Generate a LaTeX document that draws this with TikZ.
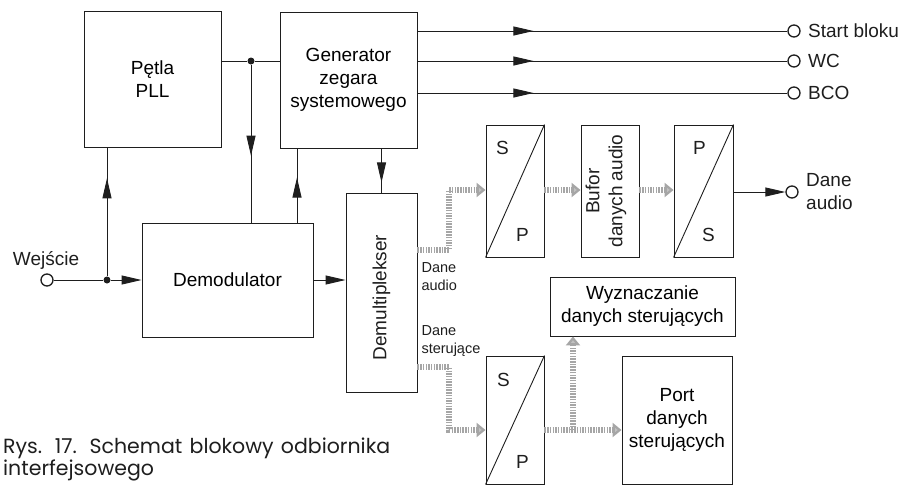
\documentclass[tikz,border=0pt]{standalone}
\usepackage{fontspec}
\setmainfont{Liberation Sans}
\newfontfamily\capfont{Poppins}
\usetikzlibrary{arrows.meta, positioning, decorations.markings}
\definecolor{InkBlack}{HTML}{1E1E1E}
\definecolor{StippleGray}{HTML}{A6A6A6}

\begin{document}
\begin{tikzpicture}[x=1pt, y=-1pt,
    block/.style={draw=InkBlack, line width=0.9pt, inner sep=0pt, align=center, font=\fontsize{19}{23}\selectfont},
    wire/.style={draw=InkBlack, line width=0.9pt},
    endtip/.style={-{Triangle[length=20pt, width=9pt]}},
    midtip/.style={postaction={decorate, decoration={markings, mark=at position #1 with {\arrow{Triangle[length=20pt, width=9pt]}}}}},
    terminal/.style={circle, draw=InkBlack, line width=1.3pt, inner sep=0pt, minimum size=12pt},
    junction/.style={circle, fill=InkBlack, inner sep=0pt, minimum size=7pt},
    datapath/.style={draw=StippleGray, line width=5.5pt, dash pattern=on 1.5pt off 1.2pt, -{Triangle[length=9pt, width=14pt, fill=StippleGray!70]}},
    lbl/.style={font=\fontsize{19}{23}\selectfont, align=left, text=InkBlack},
    smalllbl/.style={font=\fontsize{14.5}{18}\selectfont, align=left, text=InkBlack}]
    \useasboundingbox (0,0) rectangle (905,485);

    % Blocks
    \node[block, minimum width=137pt, minimum height=136pt] (pll) at (152.5,79) {Pętla\\PLL};
    \node[block, minimum width=137pt, minimum height=136pt] (gen) at (348.5,80) {Generator\\zegara\\systemowego};
    \node[block, minimum width=171pt, minimum height=114pt] (demod) at (227.5,280) {Demodulator};
    \node[block, minimum width=71pt, minimum height=199pt] (demux) at (381.5,292.5) {};
    \node[lbl, rotate=90] at ([yshift=-5pt]demux.center) {Demultiplekser};
    \node[block, minimum width=58pt, minimum height=132pt] (sp1) at (515,191) {};
    \node[block, minimum width=58pt, minimum height=132pt] (bufor) at (610,191) {};
    \node[lbl, rotate=90, align=center] at ([xshift=-4pt]bufor.center) {Bufor\\danych audio};
    \node[block, minimum width=59pt, minimum height=132pt] (ps) at (703.5,191) {};
    \node[block, minimum width=185pt, minimum height=59pt] (wyzn) at (642.5,306.5) {Wyznaczanie\\danych sterujących};
    \node[block, minimum width=58pt, minimum height=128pt] (sp2) at (515,420) {};
    \node[block, minimum width=110pt, minimum height=128pt] (portdan) at (677,420) {Port\\danych\\sterujących};

    % Converters
    \foreach \b in {sp1, ps, sp2}
        \draw[wire] (\b.south west) -- (\b.north east);
    \node[lbl] at ([xshift=17pt, yshift=-23pt]sp1.north west) {S};
    \node[lbl] at ([xshift=-22pt, yshift=22pt]sp1.south east) {P};
    \node[lbl] at ([xshift=26pt, yshift=-23pt]ps.north west) {P};
    \node[lbl] at ([xshift=-25pt, yshift=22pt]ps.south east) {S};
    \node[lbl] at ([xshift=18pt, yshift=-24pt]sp2.north west) {S};
    \node[lbl] at ([xshift=-22pt, yshift=22pt]sp2.south east) {P};

    % Outputs of the clock generator
    \node[terminal] (tstart) at (794,31) {};
    \node[terminal] (twc) at (794,61) {};
    \node[terminal] (tbco) at (794,93) {};
    \node[lbl, right=4pt of tstart] {Start bloku};
    \node[lbl, right=4pt of twc] {WC};
    \node[lbl, right=4pt of tbco] {BCO};
    \foreach \t in {tstart, twc, tbco}
        \draw[wire, midtip=116pt] (gen.east |- \t) -- (\t);

    % Input and demodulator
    \node[terminal] (tin) at (47,280) {};
    \node[lbl] at (46,260) {Wejście};
    \node[junction] (jin) at (107,280) {};
    \draw[wire] (tin) -- (jin);
    \draw[wire, endtip] (jin) -- (demod.west);
    \draw[wire, midtip=98pt] (jin) -- (jin |- pll.south);
    \draw[wire, endtip] (demod.east) -- (demod.east -| demux.west);

    % PLL and clock feedback
    \node[junction] (jpll) at (251,61) {};
    \draw[wire] (pll.east |- jpll) -- (jpll) -- (gen.west |- jpll);
    \draw[wire, midtip=91pt] (jpll) -- (jpll |- demod.north);
    \draw[wire, midtip=45pt] ([xshift=69.5pt]demod.north) -- ([xshift=-51.5pt]gen.south);
    \draw[wire, midtip=34pt] (gen.south -| demux.north) -- (demux.north);

    % Audio data path
    \draw[datapath] (demux.east |- 0,250) -- (449,250) -- (449,190) -- (sp1.west |- 0,190);
    \draw[datapath] (sp1.east |- 0,190) -- (bufor.west |- 0,190);
    \draw[datapath] (bufor.east |- 0,190) -- (ps.west |- 0,190);
    \node[terminal] (taudio) at (792,192) {};
    \draw[wire, endtip] (ps.east |- taudio) -- (taudio);
    \node[lbl, right=4pt of taudio] {Dane\\audio};
    \node[smalllbl, anchor=west] at (418,277) {Dane\\audio};

    % Control data path
    \coordinate (br) at (573,430);
    \draw[datapath] (demux.east |- 0,367) -- (449,367) -- (449,430) -- (sp2.west |- 0,430);
    \draw[datapath] (sp2.east |- br) -- (portdan.west |- br);
    \draw[datapath] (br) -- (br |- wyzn.south);
    \node[smalllbl, anchor=west] at (418,341) {Dane\\sterujące};

    % Caption
    \node[anchor=base west, inner sep=0pt, align=left, text=InkBlack, font=\capfont\fontsize{20.5}{17}\selectfont] (caption) at (3,475)
        {\makebox[387pt][s]{Rys. 17. Schemat blokowy odbiornika}\\interfejsowego};
\end{tikzpicture}
\end{document}
